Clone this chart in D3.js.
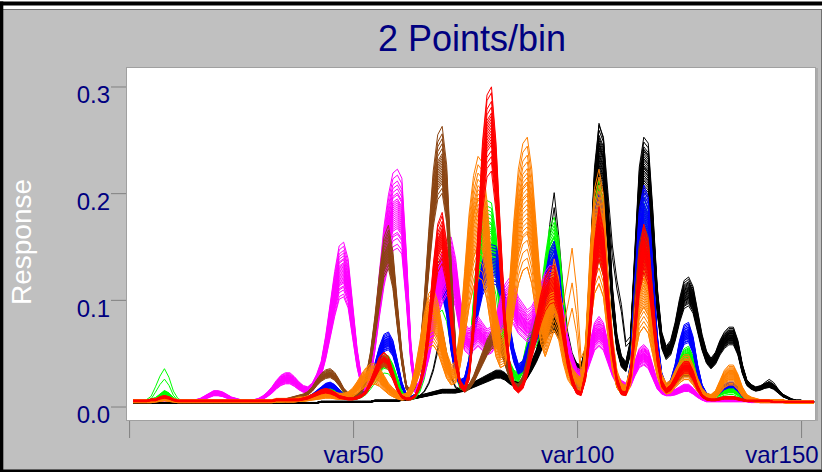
<!DOCTYPE html>
<html>
<head>
<meta charset="utf-8">
<script src="https://cdn.jsdelivr.net/npm/d3@7"></script>
<style>
body { margin: 0; background: #c0c0c0; }
svg { display: block; font-family: "Liberation Sans", Arial, sans-serif; }
</style>
</head>
<body>
<div id="chart"></div>
<script>
// axis ticks
var xTicks = [0, 50, 100, 150];
var xTickLabels = ["", "var50", "var100", "var150"];
var yTicks = [0, 0.1, 0.2, 0.3];

// response profiles, var1..var153, in thousandths
var blackA = [
  3,3,3,3,3,3,3,3,3,3, 3,3,3,3,3,3,3,3,3,3, 3,3,3,3,3,3,3,3,3,3, 3,3,3,3,3,3,3,3,3,3,
  3,3,4,4,4,4,4,4,4,4, 4,4,4,4,5,5,5,5,5,5, 6,6,7,8,10,14,22,35,55,72, 50,28,18,16,17,18,20,22,24,26,
  28,30,30,28,24,21,20,23,30,38, 50,75,120,170,200,160,110,70,50,40, 36,55,130,215,265,250,200,150,118,95,
  60,65,135,210,240,235,175,105,65,52, 55,70,90,105,110,100,80,60,46,40, 45,55,62,68,70,58,38,24,19,17,
  18,22,25,22,16,11,8,6,5,5, 4,4,4];
var blackB = [
  3,3,3,3,3,3,3,3,3,3, 3,3,3,3,3,3,3,3,3,3, 3,3,3,3,3,3,3,3,3,3, 3,3,3,3,3,3,3,3,3,3,
  3,3,4,4,4,4,4,4,4,4, 4,4,4,4,5,5,5,5,5,5, 6,6,7,8,9,10,11,12,13,14, 14,14,14,15,16,18,20,22,24,26,
  28,30,30,28,24,21,20,23,30,38, 47,58,70,78,80,74,62,50,42,36, 34,50,120,200,235,225,170,100,60,42,
  37,55,130,200,225,220,165,100,62,50, 55,70,90,105,108,100,80,60,46,40, 45,55,62,66,66,55,35,22,18,16,
  17,19,20,18,14,10,8,6,5,5, 4,4,4];
var green = [
  5,5,5,5,6,7,10,13,11,7, 5,5,5,5,5,5,5,5,5,5, 5,5,5,5,5,5,5,5,5,5, 5,5,5,5,6,6,6,6,7,8,
  10,12,15,17,18,17,14,11,9,8, 9,11,15,22,30,38,43,42,35,24, 13,8,8,10,18,35,65,100,120,125, 110,75,40,22,20,40,90,140,165,172,
  170,145,100,60,38,30,28,38,55,70, 78,95,125,150,158,140,95,55,30,20, 18,40,110,170,190,170,110,55,25,15,
  14,35,100,155,175,165,110,55,25,18, 20,28,40,48,50,42,27,15,10,9, 10,12,14,15,15,12,8,6,5,5,
  5,5,5,5,5,5,4,4,4,4, 4,4,4];
var greenB = [
  5,5,5,6,9,18,28,35,27,14, 7,5,5,5,5,5,5,5,5,5, 5,5,5,5,5,5,5,5,5,5, 5,5,5,5,6,6,6,6,7,8,
  10,12,15,17,18,17,14,11,9,8, 9,11,15,22,30,38,43,42,35,24, 13,8,8,10,18,35,65,100,120,125, 110,75,40,22,20,40,90,140,165,172,
  170,145,100,60,38,30,28,38,55,70, 78,95,125,150,158,140,95,55,30,20, 18,40,110,170,190,170,110,55,25,15,
  14,35,100,155,175,165,110,55,25,18, 20,28,40,48,50,42,27,15,10,9, 10,12,14,15,15,12,8,6,5,5,
  5,5,5,5,5,5,4,4,4,4, 4,4,4];
var blue = [
  5,5,5,5,5,5,7,8,7,6, 5,5,5,5,5,5,5,5,5,5, 5,5,5,5,5,5,5,5,5,5, 5,5,5,5,6,6,6,6,7,8,
  10,13,16,19,20,18,14,10,8,7, 8,10,15,24,36,50,60,62,55,38, 20,10,8,10,20,40,75,105,120,122, 100,60,32,22,24,40,70,100,122,132,
  135,134,120,95,70,48,35,38,50,62, 70,85,110,130,138,120,80,45,25,18, 17,40,110,165,180,165,110,55,25,15,
  14,35,105,165,185,175,120,60,28,18, 22,35,55,68,70,58,35,18,11,9, 10,14,18,20,20,16,10,7,6,5,
  5,5,5,5,5,5,4,4,4,4, 4,4,4];
var magenta = [
  5,5,5,5,5,5,6,6,6,5, 5,5,5,5,5,6,8,10,12,12, 11,9,7,6,5,5,5,5,6,8, 11,15,20,24,26,26,23,19,16,15,
  18,25,35,55,80,105,125,128,115,80, 45,22,14,30,65,105,140,165,182,185, 178,120,50,15,20,35,55,80,105,120, 130,132,115,85,65,60,65,70,65,60,
  62,70,85,95,100,95,85,80,75,78, 85,95,105,110,108,95,75,55,40,30, 28,35,50,65,70,65,50,35,25,20,
  18,22,35,45,48,44,32,20,14,12, 12,13,15,17,17,14,10,7,5,5, 5,5,5,5,5,5,5,5,4,4,
  4,4,4,4,4,4,4,4,4,4, 4,4,4];
var brown = [
  5,5,5,5,5,5,6,7,6,5, 5,5,5,5,5,5,5,5,5,5, 5,5,5,5,5,5,5,5,5,5, 5,5,5,6,6,7,8,9,10,12,
  16,22,27,30,31,28,22,15,11,9, 10,14,25,45,75,110,140,150,128,85, 45,18,12,20,45,90,145,195,225,232, 200,120,50,20,15,18,25,35,45,55,
  62,65,60,45,30,20,18,25,40,60, 75,85,95,100,100,90,65,40,22,15, 14,35,100,145,160,145,95,45,20,13,
  12,30,90,135,150,140,95,45,20,14, 16,22,28,32,32,26,16,10,7,6, 6,7,8,8,8,7,6,5,5,5,
  5,5,5,5,5,5,4,4,4,4, 4,4,4];
var orangeA = [
  5,5,5,5,5,6,7,8,7,6, 5,5,5,5,5,5,5,5,5,5, 5,5,5,5,5,5,5,5,5,5, 5,5,6,6,6,6,6,7,7,8,
  9,10,11,12,12,11,10,10,11,14, 19,25,30,33,33,30,24,18,14,11, 9,10,16,30,50,72,88,92,82,62, 42,32,35,60,105,150,180,195,190,160,
  115,75,58,62,95,145,185,205,210,185, 140,95,75,95,115,100,65,40,30,25, 22,50,120,170,185,165,105,55,28,18,
  16,30,75,110,120,110,78,45,25,18, 20,28,35,40,40,32,22,14,10,9, 12,20,28,32,32,25,15,9,7,6,
  5,5,5,5,5,5,4,4,4,4, 4,4,4];
var orangeB = [
  5,5,5,5,5,6,7,8,7,6, 5,5,5,5,5,5,5,5,5,5, 5,5,5,5,5,5,5,5,5,5, 5,5,6,6,6,6,6,7,7,8,
  9,10,11,12,12,11,10,10,11,14, 19,25,30,33,33,30,24,18,14,11, 9,10,16,30,50,72,88,92,82,62, 42,32,35,60,105,150,180,195,190,160,
  115,75,58,62,95,145,185,205,210,185, 140,95,75,95,115,100,95,120,148,110, 45,55,120,170,185,165,105,55,28,18,
  16,30,75,110,120,110,78,45,25,18, 20,28,35,40,40,32,22,14,10,9, 12,20,28,32,32,25,15,9,7,6,
  5,5,5,5,5,5,4,4,4,4, 4,4,4];
var red = [
  5,5,5,5,6,6,8,9,8,6, 5,5,5,5,5,5,5,5,5,5, 5,5,5,5,5,5,5,5,5,5, 5,5,6,6,6,6,6,6,7,8,
  10,12,14,15,14,12,9,8,7,7, 8,10,14,22,32,42,46,42,30,17, 9,7,7,10,20,40,75,120,155,165, 140,90,45,22,16,30,80,150,225,265,
  272,225,150,80,40,20,15,20,35,55, 75,95,110,118,120,105,75,45,25,14, 12,30,80,140,170,150,100,55,25,13,
  12,28,75,130,155,140,95,50,22,15, 18,25,33,38,38,30,18,10,7,6, 6,7,8,8,8,7,6,5,5,5,
  5,5,5,4,4,4,4,4,4,4, 4,4,4];

// relative height of each sample line within its group
var blackAScale = [1.0, 0.93];
var blackBScale = [0.87,0.89,0.9,0.91,0.92,0.93,0.94,0.94,0.95,0.96,0.96,0.97,0.98,0.98,0.99,1.0,1.0,1.01,1.02,1.03,1.03,1.04,1.05,1.06,1.07,1.08,1.1,1.12];
var greenScale = [0.82,0.85,0.87,0.89,0.9,0.92,0.93,0.95,0.96,0.97,0.98,1.0,1.01,1.03,1.05,1.07,1.09,1.12];
var greenBScale = [1.0, 0.72];
var blueScale = [0.85,0.87,0.88,0.9,0.91,0.92,0.93,0.94,0.95,0.96,0.97,0.98,0.99,1.0,1.01,1.02,1.03,1.05,1.06,1.08,1.1,1.12];
var magentaScale = [0.8,0.82,0.85,0.87,0.88,0.9,0.91,0.92,0.93,0.94,0.95,0.96,0.97,0.98,0.99,1.0,1.01,1.02,1.03,1.04,1.05,1.07,1.08,1.1,1.12,1.14,1.17,1.2];
var brownScale = [0.86,0.88,0.9,0.91,0.92,0.93,0.94,0.95,0.96,0.97,0.98,0.99,1.0,1.01,1.02,1.04,1.06,1.08,1.1,1.13];
var orangeScale = [0.62,0.66,0.7,0.74,0.77,0.8,0.82,0.84,0.86,0.88,0.9,0.92,0.94,0.95,0.97,0.99,1.0,1.02,1.04,1.06,1.09,1.12,1.16,1.2];
var orangeBScale = [1.0, 0.78, 0.62];
var redScale = [0.81,0.84,0.86,0.88,0.9,0.91,0.92,0.93,0.94,0.95,0.96,0.97,0.98,0.99,1.0,1.01,1.03,1.05,1.08,1.1];

var groups = [
  {color: "#000000", profile: blackB, scales: blackBScale},
  {color: "#000000", profile: blackA, scales: blackAScale},
  {color: "#00ff00", profile: green, scales: greenScale},
  {color: "#00ff00", profile: greenB, scales: greenBScale},
  {color: "#0000ff", profile: blue, scales: blueScale},
  {color: "#ff00ff", profile: magenta, scales: magentaScale},
  {color: "#8b4513", profile: brown, scales: brownScale},
  {color: "#ff8000", profile: orangeA, scales: orangeScale},
  {color: "#ff8000", profile: orangeB, scales: orangeBScale},
  {color: "#ff0000", profile: red, scales: redScale}
];

var svgWidth = 822;
var svgHeight = 472;
var plot = {left: 126, top: 67, right: 815, bottom: 420};

var svg = d3.select("#chart")
    .append("svg")
    .attr("width", svgWidth)
    .attr("height", svgHeight);

// window frame
svg.append("rect").attr("width", svgWidth).attr("height", svgHeight).attr("fill", "#c0c0c0");
svg.append("rect").attr("x", 0).attr("y", 0).attr("width", svgWidth).attr("height", 9).attr("fill", "#ffffff");
svg.append("rect").attr("x", 0).attr("y", 1.5).attr("width", svgWidth).attr("height", 4).attr("fill", "#000");
svg.append("line").attr("x1", 3).attr("x2", svgWidth).attr("y1", 9.5).attr("y2", 9.5).attr("stroke", "#707070");
svg.append("line").attr("x1", 821.5).attr("x2", 821.5).attr("y1", 9).attr("y2", 469).attr("stroke", "#707070");
svg.append("rect").attr("x", 0).attr("y", 1.5).attr("width", 3.3).attr("height", svgHeight).attr("fill", "#000");
svg.append("rect").attr("x", 0).attr("y", 469.5).attr("width", svgWidth).attr("height", 3).attr("fill", "#000");

// plot area
svg.append("rect")
    .attr("x", plot.left + 0.5).attr("y", plot.top + 0.5)
    .attr("width", plot.right - plot.left).attr("height", plot.bottom - plot.top)
    .attr("fill", "#ffffff").attr("stroke", "#a0a0a0");
svg.append("rect").attr("x", plot.right + 0.5).attr("y", plot.top + 1).attr("width", 2.5).attr("height", plot.bottom - plot.top)
    .attr("fill", "#ababab");

var x = d3.scaleLinear().domain([0, 154]).range([128.6, 818.5]);
var y = d3.scaleLinear().domain([-0.0131, 0.3178]).range([plot.bottom, plot.top]);

svg.append("clipPath").attr("id", "clip")
  .append("rect")
    .attr("x", plot.left + 1).attr("y", plot.top + 1)
    .attr("width", plot.right - plot.left - 1).attr("height", plot.bottom - plot.top - 1);

var line = d3.line()
    .x((d, i) => x(i + 1))
    .y(d => y(d));

var linesGroup = svg.append("g").attr("clip-path", "url(#clip)");

groups.forEach(function (g) {
    var series = g.scales.map(s => g.profile.map(v => v * s / 1000));
    linesGroup.selectAll(null)
        .data(series)
        .enter()
        .append("path")
        .attr("d", line)
        .attr("fill", "none")
        .attr("stroke", g.color)
        .attr("stroke-width", 1);
});

// axes
var yAxis = d3.axisLeft(y).tickValues(yTicks).tickFormat(d3.format(".1f")).tickSize(15).tickPadding(1);
var gy = svg.append("g").attr("transform", `translate(${plot.left}, 0.5)`).call(yAxis);
gy.select(".domain").remove();
gy.attr("font-family", null).attr("font-size", null);
gy.selectAll("line").attr("stroke", "#808080");
gy.selectAll("text").attr("fill", "#000080").attr("font-size", 24).attr("dy", "0.68em");

var xAxis = d3.axisBottom(x).tickValues(xTicks).tickFormat((d, i) => xTickLabels[i]).tickSize(17).tickPadding(8);
var gx = svg.append("g").attr("transform", `translate(0.5, ${plot.bottom + 1})`).call(xAxis);
gx.select(".domain").remove();
gx.attr("font-family", null).attr("font-size", null);
gx.selectAll("line").attr("stroke", "#808080");
gx.selectAll("text").attr("fill", "#000080").attr("font-size", 24);
// last label sits flush with the right edge, as in the original
gx.selectAll("text").filter(d => d === 150)
    .attr("text-anchor", "end")
    .attr("x", 17);

// titles
svg.append("text")
    .attr("x", 472).attr("y", 51)
    .attr("text-anchor", "middle")
    .attr("font-size", 36)
    .attr("fill", "#000080")
    .text("2 Points/bin");

svg.append("text")
    .attr("transform", "translate(31, 242) rotate(-90)")
    .attr("text-anchor", "middle")
    .attr("font-size", 28)
    .attr("fill", "#ffffff")
    .text("Response");
</script>
</body>
</html>
